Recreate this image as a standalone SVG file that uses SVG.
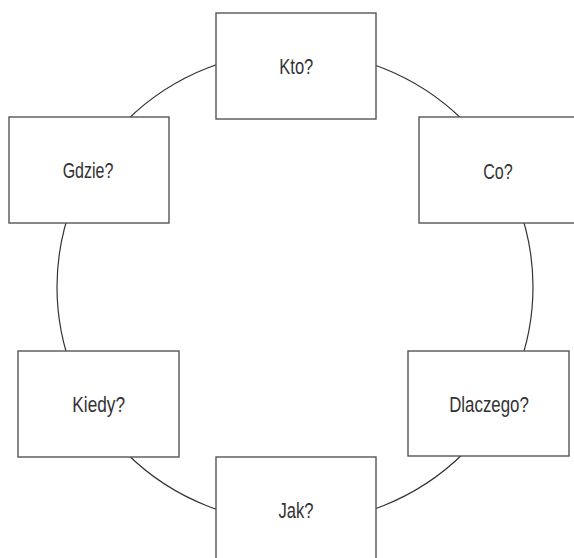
<svg xmlns="http://www.w3.org/2000/svg" width="574" height="558" viewBox="0 0 574 558">
<style>
.box{fill:#fff;stroke:#555;stroke-width:1.4}
.ring{fill:none;stroke:#333;stroke-width:1.2}
.lbl{font-family:"Liberation Sans",Arial,sans-serif;font-size:21.5px;fill:#333;text-anchor:middle}
</style>
<rect width="574" height="558" fill="#fff"/>
<g id="connectors">
<ellipse class="ring" cx="295" cy="287" rx="238" ry="235.5"/>
</g>
<g id="kto">
<rect class="box" x="216" y="13" width="160" height="106"/>
<text class="lbl" x="296.3" y="74" textLength="34" lengthAdjust="spacingAndGlyphs">Kto?</text>
</g>
<g id="co">
<rect class="box" x="419" y="117" width="162" height="106"/>
<text class="lbl" x="498" y="178.5" textLength="29.5" lengthAdjust="spacingAndGlyphs">Co?</text>
</g>
<g id="gdzie">
<rect class="box" x="9" y="117" width="160" height="106"/>
<text class="lbl" x="88" y="177.7" textLength="50.7" lengthAdjust="spacingAndGlyphs">Gdzie?</text>
</g>
<g id="kiedy">
<rect class="box" x="18" y="351" width="161" height="106"/>
<text class="lbl" x="98.7" y="411.7" textLength="52.7" lengthAdjust="spacingAndGlyphs">Kiedy?</text>
</g>
<g id="dlaczego">
<rect class="box" x="408" y="351" width="161" height="105"/>
<text class="lbl" x="489" y="411.7" textLength="79.7" lengthAdjust="spacingAndGlyphs">Dlaczego?</text>
</g>
<g id="jak">
<rect class="box" x="216" y="457" width="160" height="106"/>
<text class="lbl" x="296" y="518.3" textLength="35" lengthAdjust="spacingAndGlyphs">Jak?</text>
</g>
</svg>
